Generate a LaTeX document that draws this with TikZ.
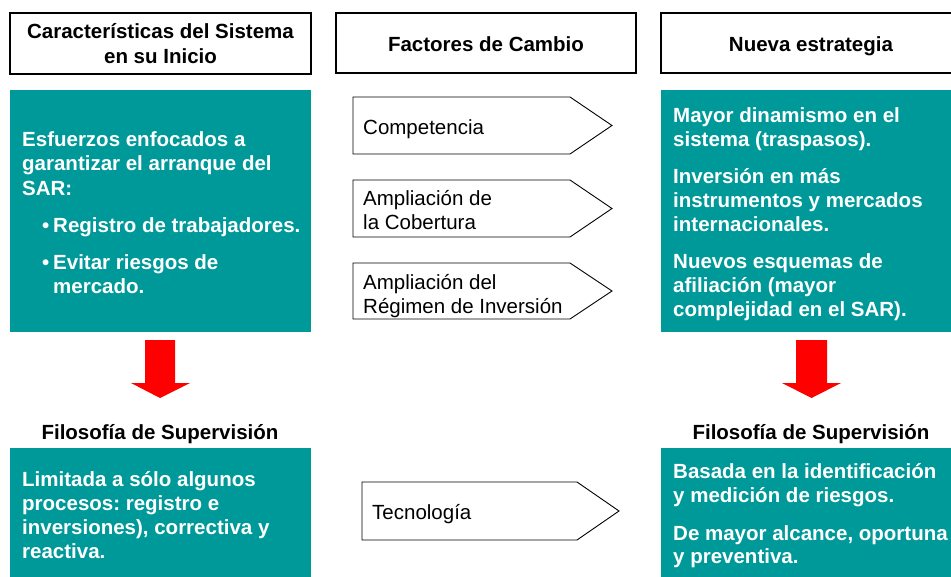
\documentclass[tikz,border=0pt]{standalone}
\usepackage{fontspec}
\setmainfont{Liberation Sans}
\definecolor{tealc}{RGB}{0,153,153}
\definecolor{redc}{RGB}{255,0,0}
\begin{document}
\frenchspacing
\begin{tikzpicture}[x=1pt,y=-1pt,
  hdrbox/.style={draw=black,line width=1.3pt,fill=white},
  tealbox/.style={fill=tealc},
  sigbox/.style={draw=black,line width=0.9pt,fill=white,line join=miter},
  wtxt/.style={anchor=base west,inner sep=0pt,text=white,font=\fontsize{20.5}{24}\selectfont\bfseries},
  htxt/.style={anchor=base,inner sep=0pt,text=black,font=\fontsize{20.5}{24}\selectfont\bfseries},
  ptxt/.style={anchor=base west,inner sep=0pt,text=black,font=\fontsize{20.5}{24}\selectfont},
  redarrow/.style={fill=redc}]
\useasboundingbox (0,0) rectangle (951,576);
\clip (0,0) rectangle (951,576);

% header boxes
\draw[hdrbox] (10,13) rectangle (311,74);
\draw[hdrbox] (336,13) rectangle (636,73);
\draw[hdrbox] (661,13) rectangle (970,73);
\node[htxt] (h1a) at (160.5,38.5) {Características del Sistema};
\node[htxt] (h1b) at (160.5,63) {en su Inicio};
\node[htxt] (h2) at (486,51) {Factores de Cambio};
\node[htxt] (h3) at (811,51) {Nueva estrategia};

% teal boxes
\fill[tealbox] (10,90) rectangle (311,332);
\fill[tealbox] (661,90) rectangle (970,332);
\fill[tealbox] (10,448) rectangle (311,590);
\fill[tealbox] (661,448) rectangle (970,590);
\coordinate (lbot) at (160,332);
\coordinate (rbot) at (811.5,332);

% left top text
\node[wtxt] (l1) at (22,146) {Esfuerzos enfocados a};
\node[wtxt] (l2) at (22,170.5) {garantizar el arranque del};
\node[wtxt] (l3) at (22,195) {SAR:};
\node[wtxt] (lb1) at (42,232) {•};
\node[wtxt] (l4) at (53,232) {Registro de trabajadores.};
\node[wtxt] (lb2) at (42,269) {•};
\node[wtxt] (l5) at (53,269) {Evitar riesgos de};
\node[wtxt] (l6) at (53,293.5) {mercado.};

% right top text
\node[wtxt] (r1) at (673,122) {Mayor dinamismo en el};
\node[wtxt] (r2) at (673,146) {sistema (traspasos).};
\node[wtxt] (r3) at (673,183) {Inversión en más};
\node[wtxt] (r4) at (673,207) {instrumentos y mercados};
\node[wtxt] (r5) at (673,231) {internacionales.};
\node[wtxt] (r6) at (673,268) {Nuevos esquemas de};
\node[wtxt] (r7) at (673,292) {afiliación (mayor};
\node[wtxt] (r8) at (673,316) {complejidad en el SAR).};

% pentagons
\draw[sigbox] (353,97) -- (570,97) -- (612,125.5) -- (570,154) -- (353,154) -- cycle;
\draw[sigbox] (353,180) -- (570,180) -- (612,208.5) -- (570,237) -- (353,237) -- cycle;
\draw[sigbox] (353,263) -- (570,263) -- (612,291) -- (570,319) -- (353,319) -- cycle;
\draw[sigbox] (362,482) -- (577,482) -- (619,511) -- (577,540) -- (362,540) -- cycle;
\node[ptxt] (p1) at (363,134) {Competencia};
\node[ptxt] (p2a) at (363,205) {Ampliación de};
\node[ptxt] (p2b) at (363,229) {la Cobertura};
\node[ptxt] (p3a) at (363,289) {Ampliación del};
\node[ptxt] (p3b) at (363,313) {Régimen de Inversión};
\node[ptxt] (p4) at (372,519) {Tecnología};

% Filosofia labels
\node[htxt] (fl) at (160,439) {Filosofía de Supervisión};
\node[htxt] (fr) at (811,439) {Filosofía de Supervisión};

% red arrows
\fill[redarrow] ([xshift=-15pt,yshift=-8pt]lbot) -- ++(30,0) -- ++(0,43) -- ++(15,0) -- (160,398) -- (131,383) -- (145,383) -- cycle;
\fill[redarrow] ([xshift=-15.5pt,yshift=-8pt]rbot) -- ++(31,0) -- ++(0,43) -- ++(14,0) -- (811.5,398) -- (782,383) -- (796,383) -- cycle;

% bottom texts
\node[wtxt] (b1) at (22,486) {Limitada a sólo algunos};
\node[wtxt] (b2) at (22,510) {procesos: registro e};
\node[wtxt] (b3) at (22,534) {inversiones), correctiva y};
\node[wtxt] (b4) at (22,558) {reactiva.};
\node[wtxt] (c1) at (673,478.5) {Basada en la identificación};
\node[wtxt] (c2) at (673,502.5) {y medición de riesgos.};
\node[wtxt] (c3) at (673,540) {De mayor alcance, oportuna};
\node[wtxt] (c4) at (673,563) {y preventiva.};
\end{tikzpicture}
\end{document}
